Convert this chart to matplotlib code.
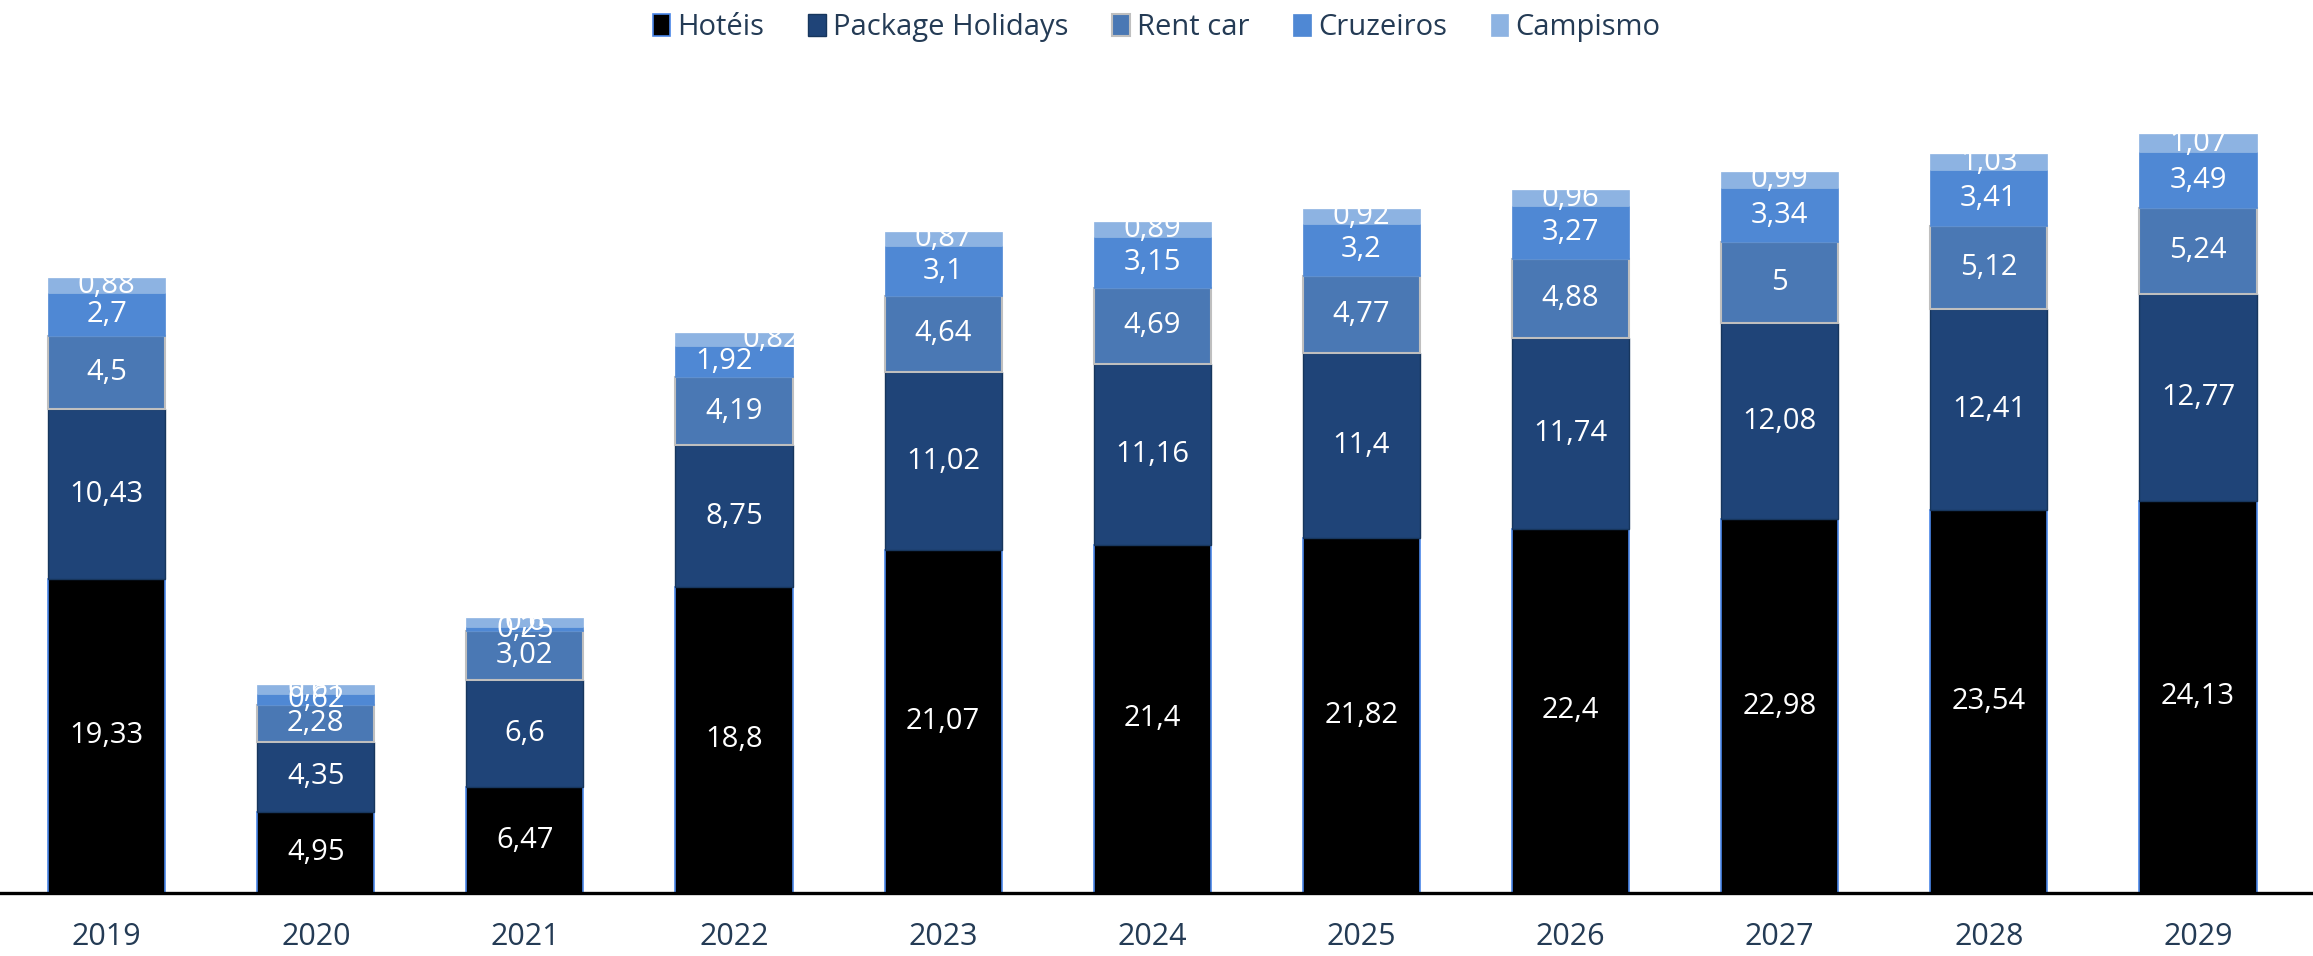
import numpy as np
import matplotlib.pyplot as plt

plt.rcParams['font.family'] = ['Open Sans', 'DejaVu Sans']

anos = ['2019', '2020', '2021', '2022', '2023', '2024', '2025', '2026', '2027', '2028', '2029']
hoteis = [19.33, 4.95, 6.47, 18.8, 21.07, 21.4, 21.82, 22.4, 22.98, 23.54, 24.13]
package = [10.43, 4.35, 6.6, 8.75, 11.02, 11.16, 11.4, 11.74, 12.08, 12.41, 12.77]
rent_car = [4.5, 2.28, 3.02, 4.19, 4.64, 4.69, 4.77, 4.88, 5, 5.12, 5.24]
cruzeiros = [2.7, 0.62, 0.25, 1.92, 3.1, 3.15, 3.2, 3.27, 3.34, 3.41, 3.49]
campismo = [0.88, 0.61, 0.6, 0.82, 0.87, 0.89, 0.92, 0.96, 0.99, 1.03, 1.07]

series = [
    ('Hotéis', hoteis, '#000000', '#4A86E8', 1.2),
    ('Package Holidays', package, '#1F4478', '#17365D', 1.0),
    ('Rent car', rent_car, '#4A78B4', '#BFBFBF', 1.5),
    ('Cruzeiros', cruzeiros, '#4F88D4', '#4F88D4', 0.5),
    ('Campismo', campismo, '#8DB3E2', '#8DB3E2', 0.5),
]

fig = plt.figure(figsize=(23.13, 9.56), dpi=100)
ax = fig.add_axes([0, 0.0664, 1, 0.849])

x = np.arange(len(anos))
bottom = np.zeros(len(anos))
for nome, vals, cor, borda, lw in series:
    vals = np.array(vals)
    bars = ax.bar(x, vals, width=0.56, bottom=bottom, color=cor, edgecolor=borda,
                  linewidth=lw, label=nome)
    for i, b in enumerate(bars):
        txt = ('%g' % vals[i]).replace('.', ',')
        dx = 0
        if nome == 'Campismo' and anos[i] == '2022':
            dx = 0.18
        if nome == 'Cruzeiros' and anos[i] == '2022':
            dx = -0.05
        ax.text(b.get_x() + b.get_width() / 2 + dx, bottom[i] + vals[i] / 2, txt,
                ha='center', va='center', color='white', fontsize=21)
    bottom += vals

ax.set_xlim(-0.51, 10.55)
ax.set_ylim(0, 50)
ax.set_xticks(x)
ax.set_xticklabels(anos, fontsize=22, color='#243B55')
ax.tick_params(axis='x', length=0, pad=21)
ax.set_yticks([])
for s in ['top', 'right', 'left']:
    ax.spines[s].set_visible(False)
ax.spines['bottom'].set_linewidth(2.4)
ax.spines['bottom'].set_color('black')

leg = fig.legend(loc='upper center', bbox_to_anchor=(0.5, 1.014), ncol=5, frameon=False,
                 fontsize=21, handlelength=0.6, handleheight=0.8, handletextpad=0.25,
                 columnspacing=1.5)
for t in leg.get_texts():
    t.set_color('#243B55')

plt.savefig('out.png', dpi=100)
